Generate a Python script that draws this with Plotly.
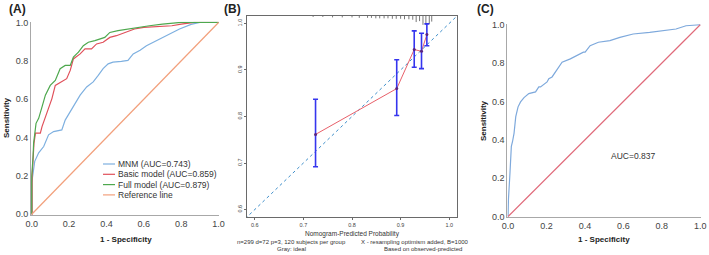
import plotly.graph_objects as go

W, H = 709, 255
FONT = "Liberation Sans, Arial, sans-serif"

# ---- panel A: ROC curves of three models
mnm_fpr = [0, 0, 0.016, 0.037, 0.064, 0.09, 0.117, 0.161, 0.179, 0.205, 0.232, 0.259, 0.294, 0.329,
           0.356, 0.382, 0.409, 0.435, 0.48, 0.515, 0.543, 0.58, 0.614, 0.685, 0.74, 0.791, 0.853, 0.90, 1.0]
mnm_tpr = [0, 0.165, 0.276, 0.32, 0.353, 0.414, 0.431, 0.44, 0.491, 0.534, 0.578, 0.621, 0.664, 0.69,
           0.724, 0.759, 0.784, 0.793, 0.797, 0.802, 0.836, 0.855, 0.879, 0.914, 0.94, 0.966, 0.99, 1.0, 1.0]

basic_fpr = [0, 0.002, 0.002, 0.012, 0.02, 0.046, 0.055, 0.073, 0.09, 0.108, 0.126, 0.161, 0.187, 0.206,
             0.223, 0.259, 0.285, 0.32, 0.347, 0.382, 0.418, 0.453, 0.498, 0.55, 0.60, 0.75, 0.80, 0.87, 1.0]
basic_tpr = [0, 0, 0.198, 0.371, 0.423, 0.423, 0.457, 0.509, 0.552, 0.603, 0.672, 0.69, 0.707, 0.75,
             0.81, 0.836, 0.862, 0.862, 0.888, 0.897, 0.922, 0.931, 0.948, 0.966, 0.974, 0.983, 0.991, 1.0, 1.0]

full_fpr = [0, 0, 0.007, 0.01, 0.023, 0.037, 0.055, 0.073, 0.099, 0.126, 0.152, 0.179, 0.206, 0.223,
            0.25, 0.276, 0.303, 0.338, 0.391, 0.418, 0.462, 0.515, 0.56, 0.63, 0.70, 0.80, 1.0]
full_tpr = [0, 0.198, 0.30, 0.371, 0.474, 0.50, 0.56, 0.621, 0.672, 0.698, 0.759, 0.776, 0.776, 0.819,
            0.845, 0.879, 0.897, 0.905, 0.922, 0.948, 0.957, 0.966, 0.974, 0.983, 0.991, 1.0, 1.0]

ref_line = [0, 1]
legend_names = ["MNM (AUC=0.743)", "Basic model (AUC=0.859)", "Full model (AUC=0.879)", "Reference line"]
colors_a = ["#7EB0E0", "#E0505A", "#4EA84E", "#F2A07C"]

# ---- panel B: calibration curve
cal_pred = [0.725, 0.892, 0.928, 0.943, 0.954]
cal_obs = [0.7615, 0.860, 0.944, 0.940, 0.976]
cal_hi = [0.837, 0.922, 0.984, 0.979, 0.999]
cal_lo = [0.692, 0.802, 0.906, 0.903, 0.952]
ideal = [0.5, 1.1]
rug_x = [0.72, 0.74, 0.76, 0.78, 0.80, 0.815, 0.832, 0.840, 0.849, 0.857, 0.866, 0.874, 0.883, 0.891,
         0.900, 0.908, 0.917, 0.925, 0.932, 0.939, 0.946, 0.952, 0.959, 0.964]
rug_h = [0.002, 0.002, 0.003, 0.003, 0.003, 0.004, 0.004, 0.004, 0.005, 0.005, 0.005, 0.005, 0.006, 0.006,
         0.006, 0.007, 0.007, 0.008, 0.013, 0.011, 0.019, 0.019, 0.017, 0.012]
b_ticks = [0.6, 0.7, 0.8, 0.9, 1.0]

# ---- panel C: ROC curve of nomogram
c_fpr = [0, 0.002, 0.01, 0.017, 0.023, 0.031, 0.04, 0.052, 0.065, 0.083, 0.108, 0.143, 0.16, 0.169, 0.203,
         0.212, 0.229, 0.246, 0.255, 0.281, 0.324, 0.358, 0.392, 0.401, 0.427, 0.47, 0.53, 0.582, 0.651,
         0.737, 0.806, 0.874, 0.926, 1.0]
c_tpr = [0, 0.09, 0.228, 0.366, 0.39, 0.434, 0.521, 0.572, 0.598, 0.62, 0.641, 0.65, 0.676, 0.676, 0.702,
         0.719, 0.728, 0.753, 0.771, 0.805, 0.822, 0.84, 0.857, 0.857, 0.891, 0.909, 0.917, 0.934, 0.952,
         0.96, 0.969, 0.978, 0.995, 1.0]
roc_ticks = [0, 0.2, 0.4, 0.6, 0.8, 1.0]


def px(x):
    return x / W


def py(y):
    return 1 - y / H


fig = go.Figure()

# panel A
for fx, fy, name, col in [(mnm_fpr, mnm_tpr, legend_names[0], colors_a[0]),
                          (basic_fpr, basic_tpr, legend_names[1], colors_a[1]),
                          (full_fpr, full_tpr, legend_names[2], colors_a[2]),
                          (ref_line, ref_line, legend_names[3], colors_a[3])]:
    fig.add_trace(go.Scatter(x=fx, y=fy, mode="lines", name=name, line=dict(color=col, width=1.2),
                             xaxis="x", yaxis="y", showlegend=False))

# panel B
fig.add_trace(go.Scatter(x=ideal, y=ideal, mode="lines", line=dict(color="#3F8FCB", width=1, dash="dot"),
                         xaxis="x2", yaxis="y2", showlegend=False))
rx, ry = [], []
for x, h in zip(rug_x, rug_h):
    rx += [x, x, None]
    ry += [1.016, 1.016 - h, None]
fig.add_trace(go.Scatter(x=rx, y=ry, mode="lines", line=dict(color="#555555", width=0.8),
                         xaxis="x2", yaxis="y2", showlegend=False))
fig.add_trace(go.Scatter(x=cal_pred, y=cal_obs, mode="lines", line=dict(color="#E8606A", width=1),
                         xaxis="x2", yaxis="y2", showlegend=False))
fig.add_trace(go.Scatter(
    x=cal_pred, y=cal_obs, mode="markers",
    marker=dict(color="#5A237F", size=3),
    error_y=dict(type="data", symmetric=False,
                 array=[h - o for h, o in zip(cal_hi, cal_obs)],
                 arrayminus=[o - l for o, l in zip(cal_obs, cal_lo)],
                 color="#3535EE", thickness=1.6, width=2.5),
    xaxis="x2", yaxis="y2", showlegend=False))

# panel C
fig.add_trace(go.Scatter(x=c_fpr, y=c_tpr, mode="lines", line=dict(color="#7EA9DC", width=1.2),
                         xaxis="x3", yaxis="y3", showlegend=False))
fig.add_trace(go.Scatter(x=ref_line, y=ref_line, mode="lines", line=dict(color="#E06A7A", width=1.2),
                         xaxis="x3", yaxis="y3", showlegend=False))

roc_axis = dict(range=[-0.004, 1.004], showgrid=False, zeroline=False, showline=True, automargin=False,
                linecolor="#A8A8A8", linewidth=1, ticks="", tickvals=roc_ticks,
                ticktext=[f"{v:.1f}" for v in roc_ticks], layer="below traces",
                tickfont=dict(family=FONT, size=9, color="#444444"))
b_axis = dict(range=[0.584, 1.016], showgrid=False, zeroline=False, showline=True, mirror=True,
              automargin=False, linecolor="#6A6A6A", linewidth=1, ticks="outside", ticklen=2,
              tickcolor="#6A6A6A", tickvals=b_ticks, ticktext=[f"{v:.1f}" for v in b_ticks],
              tickfont=dict(family=FONT, size=5.5, color="#444444"))

fig.update_layout(
    width=W, height=H, margin=dict(l=0, r=0, t=0, b=0),
    paper_bgcolor="white", plot_bgcolor="white",
    xaxis=dict(roc_axis, domain=[px(31), px(219.3)], anchor="y"),
    yaxis=dict(roc_axis, domain=[py(215), py(21.7)], anchor="x"),
    xaxis2=dict(b_axis, domain=[px(247), px(457)], anchor="y2"),
    yaxis2=dict(b_axis, domain=[py(217), py(16)], anchor="x2", tickangle=-90),
    xaxis3=dict(roc_axis, domain=[px(507.3), px(701)], anchor="y3"),
    yaxis3=dict(roc_axis, domain=[py(217.3), py(24)], anchor="x3"),
)

ann = []


def text(x, y, s, size, bold=False, anchor="center", angle=0, color="#222222"):
    ann.append(dict(x=px(x), y=py(y), xref="paper", yref="paper", text=f"<b>{s}</b>" if bold else s,
                    showarrow=False, xanchor=anchor, yanchor="middle", textangle=angle, borderpad=0,
                    font=dict(family=FONT, size=size, color=color)))


text(17, 9, "(A)", 12, bold=True)
text(232, 9, "(B)", 12, bold=True)
text(485, 9, "(C)", 12, bold=True)

text(126, 239, "1 - Specificity", 8, bold=True)
text(6, 118, "Sensitivity", 8, bold=True, angle=-90)
text(604, 239, "1 - Specificity", 8, bold=True)
text(483, 121, "Sensitivity", 8, bold=True, angle=-90)
text(633, 156, "AUC=0.837", 8.5, color="#333333")

# legend of panel A
shapes = []
for i, (name, col) in enumerate(zip(legend_names, colors_a)):
    yy = 164 + i * 10.3
    shapes.append(dict(type="line", xref="paper", yref="paper", x0=px(103), x1=px(115),
                       y0=py(yy), y1=py(yy), line=dict(color=col, width=1.2)))
    text(117, yy, name, 8.5, anchor="left", color="#333333")

# panel B texts
text(352, 234, "Nomogram-Predicted Probability", 6.5, color="#333333")
text(236, 241.5, "n=299 d=72 p=3, 120 subjects per group", 6, anchor="left", color="#333333")
text(470, 241.5, "X - resampling optimism added, B=1000", 6, anchor="right", color="#333333")
text(291, 249, "Gray: ideal", 6, color="#333333")
text(423, 249, "Based on observed-predicted", 6, color="#333333")

fig.update_layout(annotations=ann, shapes=shapes)
fig.write_html("out.html", config={"displayModeBar": False},
               post_script="document.body.style.margin='0';")
